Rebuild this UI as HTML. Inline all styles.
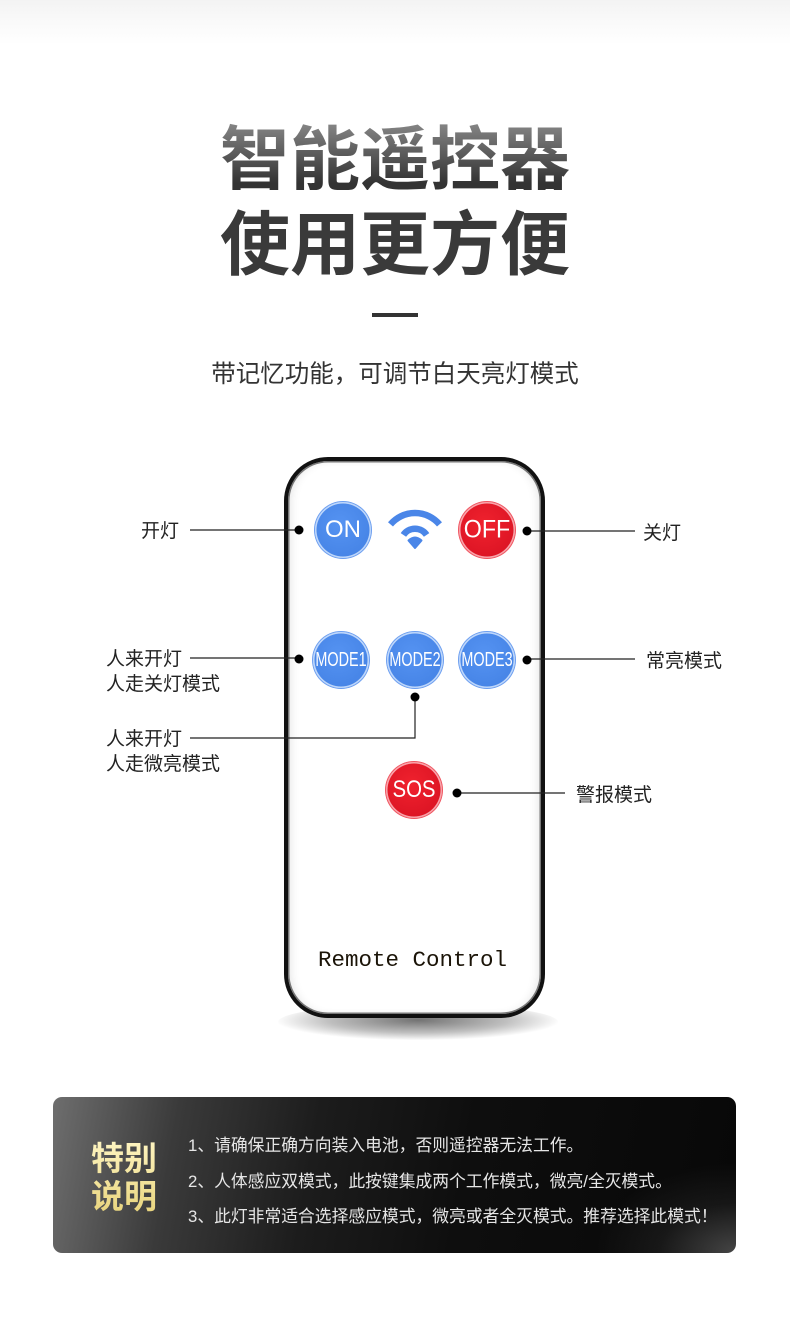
<!DOCTYPE html>
<html>
<head>
<meta charset="utf-8">
<style>
  html,body{margin:0;padding:0;}
  body{width:790px;height:1318px;position:relative;overflow:hidden;background:#fff;
    font-family:"Liberation Sans","Noto Sans CJK SC",sans-serif;}
  .topfade{position:absolute;left:0;top:0;width:790px;height:45px;
    background:linear-gradient(#f3f3f3,#fafafa 50%,#fff);}
  .abs{position:absolute;}
  .title{position:absolute;left:0;width:790px;text-align:center;font-weight:700;
    font-family:"Noto Sans CJK SC",sans-serif;font-size:70px;line-height:70px;letter-spacing:0px;}
  .t1{top:120px;background:linear-gradient(#8a8a8a,#333 90%);-webkit-background-clip:text;background-clip:text;color:transparent;}
  .t2{top:205px;color:#3a3a3a;}
  .dash{position:absolute;left:372px;top:313px;width:46px;height:4px;background:#333;}
  .sub{position:absolute;left:0;width:790px;top:360px;text-align:center;font-size:24.5px;line-height:26px;color:#333;
    font-family:"Noto Sans CJK SC",sans-serif;}
  .lbl{position:absolute;font-family:"Noto Sans CJK SC",sans-serif;font-size:19px;line-height:25px;color:#222;white-space:nowrap;}
  .remote{position:absolute;left:284px;top:457px;width:253px;height:553px;border:4.5px solid #111;border-radius:44px;
    background:#fff;box-shadow:inset 0 0 0 1.5px #777, inset 6px 0 10px -4px rgba(0,0,0,0.12), inset -6px 0 10px -4px rgba(0,0,0,0.12);}
  .shadow{position:absolute;left:278px;top:1004px;width:280px;height:36px;border-radius:50%;
    background:radial-gradient(ellipse at 50% 45%, rgba(0,0,0,0.55) 0%, rgba(0,0,0,0.25) 45%, rgba(0,0,0,0) 72%);}
  .btn{position:absolute;width:56px;height:56px;border-radius:50%;color:#fff;
    font-family:"Liberation Sans",sans-serif;white-space:nowrap;}
  .blue{background:radial-gradient(circle at 45% 40%,#5593f2,#4684e6 75%);box-shadow:inset 0 0 0 1.5px rgba(220,235,255,0.8),0 0 0 1px #6d9ff0;}
  .red{background:radial-gradient(circle at 45% 40%,#f0222e,#dc1424 75%);box-shadow:inset 0 0 0 1.5px rgba(255,200,205,0.8),0 0 0 1px #f05560;}
  .btn span{position:absolute;left:50%;top:50%;line-height:1;display:block;}
  .rc{position:absolute;left:318px;top:945px;font-family:"Liberation Mono",monospace;font-size:22.5px;line-height:30px;color:#1b1408;white-space:nowrap;}
  .box{position:absolute;left:53px;top:1097px;width:683px;height:156px;border-radius:9px;overflow:hidden;
    background:
      radial-gradient(ellipse 140px 90px at 100% 100%, rgba(120,120,120,0.55), rgba(80,80,80,0.2) 55%, rgba(0,0,0,0) 100%),
      linear-gradient(100deg,#6e6e6e 0%,#3a3a3a 18%,#1c1c1c 38%,#0e0e0e 60%,#080808 100%);}
  .sp{position:absolute;left:38px;top:40px;font-family:"Noto Sans CJK SC",sans-serif;font-weight:700;font-size:33px;line-height:38px;
    background:linear-gradient(#fff6c4,#e9d57e);-webkit-background-clip:text;background-clip:text;color:transparent;}
  .items{position:absolute;left:135px;top:31px;font-family:"Liberation Sans","Noto Sans CJK SC",sans-serif;font-size:16.8px;line-height:35.5px;color:#e6e6e6;white-space:nowrap;}
</style>
</head>
<body>
<div class="topfade"></div>

<div class="title t1">智能遥控器</div>
<div class="title t2">使用更方便</div>
<div class="dash"></div>
<div class="sub">带记忆功能，可调节白天亮灯模式</div>

<div class="shadow"></div>
<div class="remote"></div>

<!-- connectors -->
<svg class="abs" style="left:0;top:0" width="790" height="1318">
  <g stroke="#222" stroke-width="1.2" fill="none">
    <line x1="190" y1="530" x2="299" y2="530"/>
    <line x1="527" y1="531" x2="635" y2="531"/>
    <line x1="190" y1="658" x2="299" y2="658"/>
    <line x1="527" y1="659" x2="635" y2="659"/>
    <polyline points="190,738 415,738 415,697"/>
    <line x1="457" y1="793" x2="565" y2="793"/>
  </g>
  <g fill="#000">
    <circle cx="299" cy="530" r="4.5"/>
    <circle cx="527" cy="531" r="4.5"/>
    <circle cx="299" cy="659" r="4.5"/>
    <circle cx="527" cy="660" r="4.5"/>
    <circle cx="415" cy="697" r="4.5"/>
    <circle cx="457" cy="793" r="4.5"/>
  </g>
  <!-- wifi -->
  <g stroke="#4a86e8" stroke-width="6.5" fill="none" stroke-linecap="butt">
    <path d="M 390.5 524.4 A 32 32 0 0 1 439.5 524.4"/>
    <path d="M 403.4 534.9 A 14 14 0 0 1 426.6 534.9"/>
  </g>
  <path d="M 415 548 L 408.5 540.5 Q 415 534.5 421.5 540.5 Z" fill="#4a86e8" stroke="#4a86e8" stroke-width="2" stroke-linejoin="round"/>
</svg>

<!-- buttons -->
<div class="btn blue" style="left:315px;top:502px;"><span style="font-size:24px;transform:translate(-50%,-50%);">ON</span></div>
<div class="btn red" style="left:459px;top:502px;"><span style="font-size:25px;transform:translate(-50%,-50%) scaleX(0.93);">OFF</span></div>
<div class="btn blue" style="left:313px;top:632px;"><span style="font-size:20px;transform:translate(-50%,-50%) scaleX(0.72);">MODE1</span></div>
<div class="btn blue" style="left:387px;top:632px;"><span style="font-size:20px;transform:translate(-50%,-50%) scaleX(0.72);">MODE2</span></div>
<div class="btn blue" style="left:459px;top:632px;"><span style="font-size:20px;transform:translate(-50%,-50%) scaleX(0.72);">MODE3</span></div>
<div class="btn red" style="left:386px;top:762px;"><span style="font-size:24px;transform:translate(-50%,-50%) scaleX(0.85);">SOS</span></div>

<div class="rc">Remote Control</div>

<!-- labels -->
<div class="lbl" style="left:141px;top:517px;">开灯</div>
<div class="lbl" style="left:643px;top:519px;">关灯</div>
<div class="lbl" style="left:106px;top:645px;">人来开灯<br>人走关灯模式</div>
<div class="lbl" style="left:646px;top:647px;">常亮模式</div>
<div class="lbl" style="left:106px;top:725px;">人来开灯<br>人走微亮模式</div>
<div class="lbl" style="left:576px;top:781px;">警报模式</div>

<div class="box">
  <div class="sp">特别<br>说明</div>
  <div class="items">1、请确保正确方向装入电池，否则遥控器无法工作。<br>2、人体感应双模式，此按键集成两个工作模式，微亮/全灭模式。<br>3、此灯非常适合选择感应模式，微亮或者全灭模式。推荐选择此模式！</div>
</div>
</body>
</html>
